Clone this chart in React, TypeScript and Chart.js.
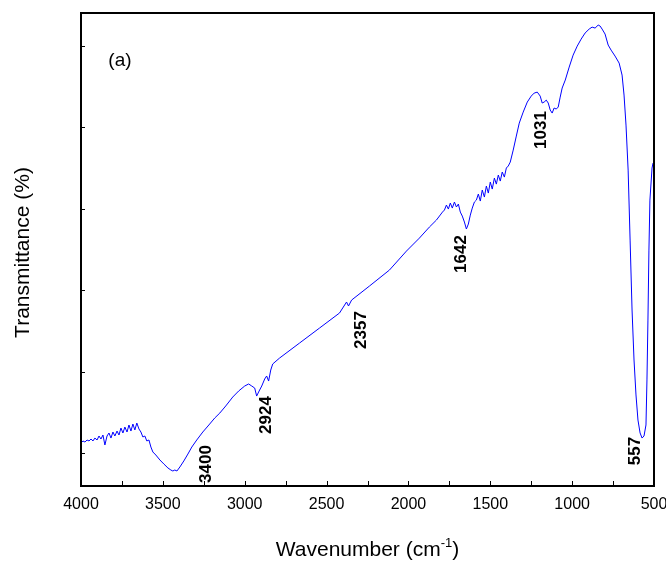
import React, { useEffect, useRef } from "react";
import { Chart, registerables } from "chart.js";

Chart.register(...registerables);

// Wavenumber (cm^-1) of each sampled point of the spectrum
const wavenumbers = [
  4000, 3988, 3976, 3963, 3951, 3939, 3927, 3915, 3902, 3890, 3878, 3866, 3854, 3841, 3829, 3817,
  3805, 3793, 3780, 3768, 3756, 3744, 3732, 3719, 3707, 3695, 3683, 3671, 3659, 3646, 3634, 3622,
  3610, 3598, 3585, 3573, 3561, 3543, 3518, 3494, 3469, 3451, 3439, 3427, 3414, 3396, 3372, 3347,
  3323, 3293, 3256, 3219, 3183, 3152, 3116, 3073, 3037, 3000, 2976, 2957, 2939, 2927, 2915, 2896,
  2878, 2866, 2854, 2841, 2829, 2787, 2665, 2543, 2421, 2378, 2366, 2347, 2238, 2116, 2012, 1933,
  1872, 1829, 1792, 1780, 1768, 1756, 1744, 1732, 1719, 1707, 1695, 1683, 1671, 1658, 1646, 1634,
  1622, 1610, 1597, 1585, 1573, 1561, 1549, 1536, 1524, 1512, 1500, 1488, 1475, 1463, 1451, 1439,
  1427, 1414, 1402, 1390, 1378, 1360, 1341, 1323, 1299, 1274, 1250, 1232, 1213, 1195, 1183, 1171,
  1158, 1146, 1134, 1122, 1110, 1097, 1085, 1073, 1061, 1042, 1018, 994, 969, 945, 921, 896,
  878, 860, 841, 829, 817, 799, 780, 762, 738, 713, 695, 683, 671, 658, 646, 634,
  622, 610, 598, 585, 573, 561, 549, 543, 537, 531, 525, 512, 506,
];

// Transmittance (arbitrary %)
const transmittance = [
  5.27, 5.52, 5.39, 5.64, 5.52, 5.76, 5.52, 5.88, 5.64, 6.13, 5.76, 6.25, 5.03, 6.13, 6.5, 5.88,
  6.62, 6.13, 6.74, 6.25, 7.11, 6.5, 7.23, 6.62, 7.48, 6.74, 7.6, 6.87, 7.72, 6.99, 6.62, 6.01,
  6.13, 5.52, 5.64, 4.78, 4.17, 3.8, 3.19, 2.7, 2.21, 1.96, 1.84, 1.96, 1.84, 2.33, 3.07, 3.92,
  4.78, 5.64, 6.62, 7.48, 8.34, 8.95, 9.81, 10.91, 11.65, 12.26, 12.51, 12.26, 12.01, 11.03, 11.53, 12.26,
  13.12, 13.49, 12.87, 14.22, 14.96, 15.69, 17.53, 19.37, 21.21, 22.56, 22.07, 22.8, 24.52, 26.48, 28.81, 30.4,
  31.75, 32.61, 33.59, 33.84, 34.45, 33.96, 34.7, 34.08, 34.82, 34.21, 34.57, 33.59, 33.1, 32.37, 31.51, 32.12,
  33.22, 34.08, 34.82, 35.06, 35.8, 34.94, 36.29, 35.43, 36.78, 35.92, 37.27, 36.41, 37.76, 37.02, 38.13, 37.39,
  38.5, 37.88, 38.99, 39.24, 39.72, 41.19, 42.91, 44.5, 45.85, 47.08, 47.81, 48.18, 48.3, 47.81, 46.96, 47.08,
  47.32, 46.96, 46.1, 45.73, 46.35, 46.22, 46.47, 47.69, 48.8, 49.78, 51.37, 52.84, 53.94, 54.8, 55.54, 56.03,
  56.27, 56.15, 56.52, 56.4, 56.03, 55.42, 54.07, 53.45, 52.72, 51.86, 50.39, 47.94, 44.26, 38.74, 30.16, 21.58,
  15.45, 11.16, 8.09, 6.5, 5.88, 6.13, 7.48, 13.0, 20.35, 28.93, 35.06, 38.99, 39.6,
];

// Axis ticks
const xMajorTicks = [4000, 3500, 3000, 2500, 2000, 1500, 1000, 500];
const xMinorTicks = [3750, 3250, 2750, 2250, 1750, 1250, 750];
const yTicks = [4, 14, 24, 34, 44, 54];

// Peak annotations: label text, anchor wavenumber, anchor transmittance
const peakLabels = ["3400", "2924", "2357", "1642", "1031", "557"];
const peakLabelX = [3232, 2866, 2286, 1677, 1189, 616];
const peakLabelY = [2.7, 8.7, 19.13, 28.44, 43.65, 4.29];

const panelLabel = "(a)";
const xTitle = "Wavenumber (cm";
const xTitleSup = "-1";
const yTitle = "Transmittance (%)";

const FONT = 'Arial, "Liberation Sans", sans-serif';

const decorPlugin = {
  id: "decor",
  afterDatasetsDraw(chart: any) {
    const { ctx, chartArea, scales } = chart;
    const xs = scales.x;
    const ys = scales.y;
    const { left, right, top, bottom } = chartArea;
    ctx.save();

    // frame
    ctx.strokeStyle = "#000";
    ctx.lineWidth = 2;
    ctx.strokeRect(left, top, right - left, bottom - top);

    // ticks
    ctx.lineWidth = 1;
    ctx.beginPath();
    [...xMajorTicks, ...xMinorTicks].forEach((v) => {
      const px = Math.round(xs.getPixelForValue(v)) + 0.5;
      ctx.moveTo(px, bottom);
      ctx.lineTo(px, bottom - 5);
    });
    yTicks.forEach((v) => {
      const py = Math.round(ys.getPixelForValue(v)) + 0.5;
      ctx.moveTo(left, py);
      ctx.lineTo(left + 4, py);
    });
    ctx.stroke();

    // x tick labels
    ctx.fillStyle = "#000";
    ctx.font = `16px ${FONT}`;
    ctx.textAlign = "center";
    ctx.textBaseline = "middle";
    xMajorTicks.forEach((v) => {
      ctx.fillText(String(v), xs.getPixelForValue(v), bottom + 19);
    });

    // x title with superscript
    const cx = (left + right) / 2;
    ctx.font = `21px ${FONT}`;
    const w1 = ctx.measureText(xTitle).width;
    const w3 = ctx.measureText(")").width;
    ctx.font = `13px ${FONT}`;
    const w2 = ctx.measureText(xTitleSup).width;
    const total = w1 + w2 + w3;
    let sx = cx - total / 2;
    const by = 556;
    ctx.textAlign = "left";
    ctx.textBaseline = "alphabetic";
    ctx.font = `21px ${FONT}`;
    ctx.fillText(xTitle, sx, by);
    sx += w1;
    ctx.font = `13px ${FONT}`;
    ctx.fillText(xTitleSup, sx, by - 9);
    sx += w2;
    ctx.font = `21px ${FONT}`;
    ctx.fillText(")", sx, by);

    // y title
    ctx.save();
    ctx.translate(23, (top + bottom) / 2 + 3);
    ctx.rotate(-Math.PI / 2);
    ctx.textAlign = "center";
    ctx.textBaseline = "middle";
    ctx.font = `21px ${FONT}`;
    ctx.fillText(yTitle, 0, 0);
    ctx.restore();

    // panel label
    ctx.font = `19px ${FONT}`;
    ctx.textAlign = "center";
    ctx.textBaseline = "middle";
    ctx.fillText(panelLabel, xs.getPixelForValue(3762), ys.getPixelForValue(52.2));

    // peak labels
    ctx.font = `bold 17px ${FONT}`;
    peakLabels.forEach((t, i) => {
      ctx.save();
      ctx.translate(xs.getPixelForValue(peakLabelX[i]), ys.getPixelForValue(peakLabelY[i]));
      ctx.rotate(-Math.PI / 2);
      ctx.textAlign = "center";
      ctx.textBaseline = "middle";
      ctx.fillText(t, 0, 0);
      ctx.restore();
    });

    ctx.restore();
  },
};

export default function App() {
  const ref = useRef<HTMLCanvasElement | null>(null);
  useEffect(() => {
    if (!ref.current) return;
    const chart = new Chart(ref.current, {
      type: "line",
      data: {
        datasets: [
          {
            data: wavenumbers.map((x, i) => ({ x, y: transmittance[i] })),
            borderColor: "#0000ff",
            borderWidth: 1,
            pointRadius: 0,
            tension: 0,
            fill: false,
          },
        ],
      },
      options: {
        responsive: false,
        animation: false,
        devicePixelRatio: 1,
        layout: { padding: { left: 81, top: 13, right: 12, bottom: 84 } },
        plugins: { legend: { display: false }, tooltip: { enabled: false } },
        scales: {
          x: { type: "linear", reverse: true, min: 500, max: 4000, display: false },
          y: { type: "linear", min: 0, max: 58, display: false },
        },
      },
      plugins: [decorPlugin],
    });
    return () => chart.destroy();
  }, []);
  return (
    <div style={{ position: "fixed", left: 0, top: 0, width: 666, height: 570, background: "#fff" }}>
      <canvas ref={ref} width={666} height={570} style={{ display: "block" }} />
    </div>
  );
}
